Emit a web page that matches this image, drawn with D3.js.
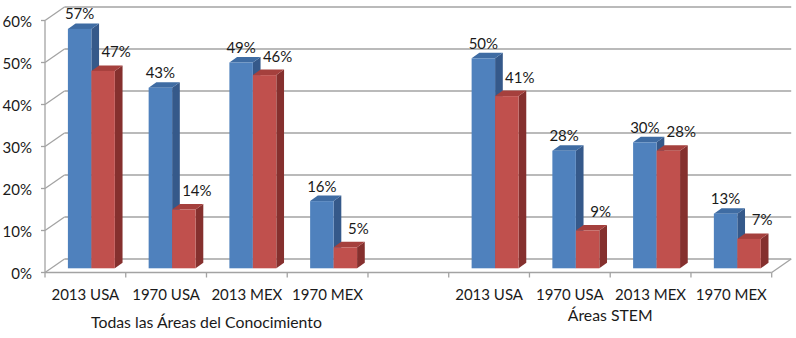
<!DOCTYPE html>
<html>
<head>
<meta charset="utf-8">
<script src="https://cdn.jsdelivr.net/npm/d3@7"></script>
<style>
  html, body { margin: 0; padding: 0; background: #fff; }
  svg { display: block; }
  text { font-family: Lato, "Open Sans", sans-serif; fill: #1a1a1a; }
</style>
</head>
<body>
<svg id="chart" width="796" height="338"></svg>
<script>
// ---- data ----
const categories = ["2013 USA", "1970 USA", "2013 MEX", "1970 MEX"];
const groupNames = ["Todas las Áreas del Conocimiento", "Áreas STEM"];
const blueTodas = [57, 43, 49, 16];
const redTodas  = [47, 14, 46, 5];
const blueStem  = [50, 28, 30, 13];
const redStem   = [41, 9, 28, 7];
const yTicks = [0, 10, 20, 30, 40, 50, 60];
const yTickLabels = ["0%", "10%", "20%", "30%", "40%", "50%", "60%"];

// ---- layout ----
const W = 796, H = 338;
const frontLeft = 45, frontRight = 771.7;
const wallDX = 19.5, wallDY = -13.5;       // depth offset of back wall
const barDX = 6, barDY = -4.2;             // bar front plane offset
const sideDX = 7.7, sideDY = -5.5;         // bar depth
const groupLabelY = [328, 321];
const fs = 15;

const svg = d3.select("#chart");

// slots: group0 categories, blank, group1 categories
const slots = [];
categories.forEach((c, i) => slots.push({key: "g0-" + i, label: c, group: 0, blue: blueTodas[i], red: redTodas[i]}));
slots.push({key: "blank", label: "", group: -1});
categories.forEach((c, i) => slots.push({key: "g1-" + i, label: c, group: 1, blue: blueStem[i], red: redStem[i]}));

const x0 = d3.scaleBand().domain(slots.map(d => d.key)).range([frontLeft, frontRight]).paddingInner(0).paddingOuter(0);
const x1 = d3.scaleBand().domain(["blue", "red"]).range([0, x0.bandwidth()]).paddingInner(0).paddingOuter(0.72);
const y = d3.scaleLinear().domain([0, 60]).range([272.5, 20.5]);

const gridColor = "#a3a3a3";

// back wall gridlines
const grid = svg.append("g");
grid.selectAll("line.back").data(yTicks).join("line")
  .attr("x1", frontLeft + wallDX).attr("x2", frontRight + wallDX)
  .attr("y1", d => y(d) + wallDY).attr("y2", d => y(d) + wallDY)
  .attr("stroke", gridColor).attr("stroke-width", 1.6);
// side wall diagonals
grid.selectAll("line.side").data(yTicks).join("line")
  .attr("x1", frontLeft).attr("x2", frontLeft + wallDX)
  .attr("y1", d => y(d)).attr("y2", d => y(d) + wallDY)
  .attr("stroke", gridColor).attr("stroke-width", 1.3);
// right floor edge
grid.append("line")
  .attr("x1", frontRight).attr("x2", frontRight + wallDX)
  .attr("y1", y(0)).attr("y2", y(0) + wallDY)
  .attr("stroke", gridColor).attr("stroke-width", 1.3);

// bars
const colors = {
  blue: {front: "#4f81bd", side: "#35598a", top: "#3f6ca3"},
  red:  {front: "#c0504d", side: "#85302e", top: "#a5403d"}
};
const bars = [];
slots.filter(s => s.group >= 0).forEach(s => {
  ["blue", "red"].forEach(k => {
    bars.push({slot: s, key: k, value: s[k]});
  });
});
const barG = svg.append("g");
bars.forEach(b => {
  const xl = x0(b.slot.key) + x1(b.key) + barDX;
  const w = x1.bandwidth();
  const yb = y(0) + barDY;
  const yt = y(b.value) + barDY;
  const c = colors[b.key];
  const g = barG.append("g");
  g.append("path")
    .attr("d", `M${xl + w},${yt} L${xl + w + sideDX},${yt + sideDY} L${xl + w + sideDX},${yb + sideDY} L${xl + w},${yb} Z`)
    .attr("fill", c.side);
  g.append("path")
    .attr("d", `M${xl},${yt} L${xl + sideDX},${yt + sideDY} L${xl + w + sideDX},${yt + sideDY} L${xl + w},${yt} Z`)
    .attr("fill", c.top);
  g.append("rect")
    .attr("x", xl).attr("y", yt).attr("width", w).attr("height", yb - yt)
    .attr("fill", c.front);
  b.cx = xl + w / 2;
  b.backTop = yt + sideDY;
});

// data labels
svg.append("g").selectAll("text").data(bars).join("text")
  .attr("x", d => d.key === "blue" ? d.cx : d.cx + 13)
  .attr("y", d => d.key === "blue" ? d.backTop - 4 : d.backTop - 8)
  .attr("text-anchor", "middle")
  .attr("font-size", fs)
  .text(d => d.value + "%");

// front axes
const axisG = svg.append("g");
axisG.append("line")
  .attr("x1", frontLeft).attr("x2", frontLeft)
  .attr("y1", y(60)).attr("y2", y(0))
  .attr("stroke", gridColor).attr("stroke-width", 1.3);
axisG.selectAll("line.ytick").data(yTicks).join("line")
  .attr("x1", frontLeft - 4).attr("x2", frontLeft)
  .attr("y1", d => y(d)).attr("y2", d => y(d))
  .attr("stroke", gridColor).attr("stroke-width", 1.3);
axisG.selectAll("text.ylab").data(yTicks).join("text")
  .attr("x", 32).attr("y", d => y(d) + 6)
  .attr("text-anchor", "end").attr("font-size", fs)
  .text((d, i) => yTickLabels[i]);

axisG.append("line")
  .attr("x1", frontLeft).attr("x2", frontRight)
  .attr("y1", y(0)).attr("y2", y(0))
  .attr("stroke", gridColor).attr("stroke-width", 1.3);
const tickXs = slots.map(s => x0(s.key)).concat([frontRight]);
axisG.selectAll("line.xtick").data(tickXs).join("line")
  .attr("x1", d => d).attr("x2", d => d)
  .attr("y1", y(0)).attr("y2", y(0) + 5)
  .attr("stroke", gridColor).attr("stroke-width", 1.3);
axisG.selectAll("text.xlab").data(slots.filter(s => s.group >= 0)).join("text")
  .attr("x", d => x0(d.key) + x0.bandwidth() / 2)
  .attr("y", 300)
  .attr("text-anchor", "middle").attr("font-size", fs)
  .text(d => d.label);

// group labels
groupNames.forEach((g, gi) => {
  const keys = slots.filter(s => s.group === gi).map(s => s.key);
  const cx = (x0(keys[0]) + x0(keys[keys.length - 1]) + x0.bandwidth()) / 2;
  axisG.append("text")
    .attr("x", cx).attr("y", groupLabelY[gi])
    .attr("text-anchor", "middle").attr("font-size", 15.8)
    .text(g);
});
</script>
</body>
</html>
